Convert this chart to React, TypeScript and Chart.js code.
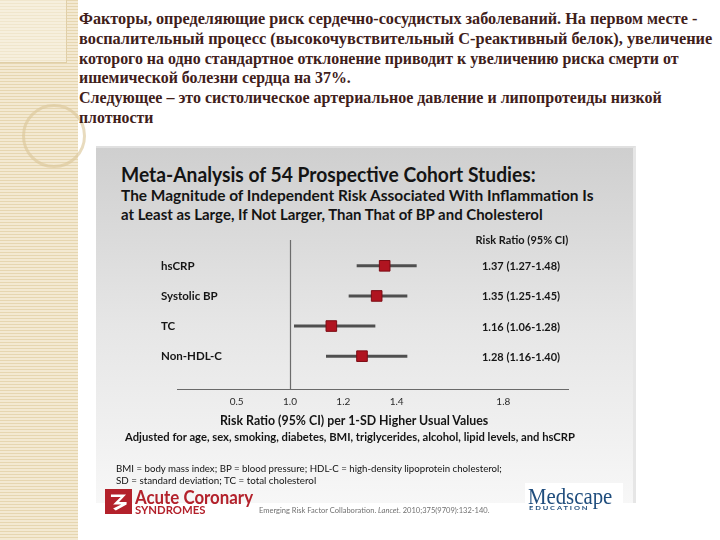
import React, { useEffect, useLayoutEffect, useRef } from "react";
import { Chart, registerables } from "chart.js";

Chart.register(...registerables);

// ---------- data ----------
const categories = ["hsCRP", "Systolic BP", "TC", "Non-HDL-C"];
const riskRatios = [1.355, 1.325, 1.155, 1.27];
const ciLower = [1.25, 1.22, 1.015, 1.135];
const ciUpper = [1.475, 1.44, 1.32, 1.44];
const ciLabels = ["1.37 (1.27-1.48)", "1.35 (1.25-1.45)", "1.16 (1.06-1.28)", "1.28 (1.16-1.40)"];
const xTickValues = [0.8, 1.0, 1.2, 1.4, 1.8];
const xTickLabels = ["0.5", "1.0", "1.2", "1.4", "1.8"];
const referenceRatio = 1.0;
const ciHeader = "Risk Ratio (95% CI)";
const xAxisTitle = "Risk Ratio (95% CI) per 1-SD Higher Usual Values";

const introLines = [
  "Факторы, определяющие риск сердечно-сосудистых заболеваний. На первом месте -",
  "воспалительный процесс (высокочувствительный С-реактивный белок), увеличение",
  "которого на одно стандартное отклонение приводит к увеличению риска смерти от",
  "ишемической болезни сердца на 37%.",
  "Следующее – это систолическое артериальное давление и липопротеиды низкой",
  "плотности",
];

const SANS = "Lato, 'Open Sans', 'DejaVu Sans', sans-serif";
const SERIF = "'Liberation Serif', 'DejaVu Serif', serif";

type FitProps = {
  x: number;
  y: number;
  w: number;
  size: number;
  weight?: number | string;
  family?: string;
  color?: string;
  spacing?: number;
  children: React.ReactNode;
};

function FitText({ x, y, w, size, weight = 700, family = SANS, color = "#141414", spacing, children }: FitProps) {
  const ref = useRef<HTMLDivElement>(null);
  useLayoutEffect(() => {
    const el = ref.current;
    if (!el) return;
    el.style.transform = "translateY(-50%)";
    const natural = el.offsetWidth;
    if (natural > 0) el.style.transform = `translateY(-50%) scaleX(${w / natural})`;
  });
  return (
    <div
      ref={ref}
      style={{
        position: "absolute",
        left: x,
        top: y,
        whiteSpace: "nowrap",
        fontSize: size,
        fontWeight: weight as any,
        fontFamily: family,
        color,
        lineHeight: 1,
        letterSpacing: spacing,
        transformOrigin: "0 50%",
        transform: "translateY(-50%)",
      }}
    >
      {children}
    </div>
  );
}

const rowOf = (i: number) => i + 1;

function ForestChart() {
  const canvasRef = useRef<HTMLCanvasElement>(null);

  useEffect(() => {
    const canvas = canvasRef.current;
    if (!canvas) return;

    const annotations = {
      id: "forestAnnotations",
      beforeDatasetsDraw(chart: any) {
        const { ctx, chartArea, scales } = chart;
        const px = Math.round(scales.x.getPixelForValue(referenceRatio)) + 0.5;
        ctx.save();
        ctx.strokeStyle = "#6c6c6c";
        ctx.lineWidth = 1.2;
        ctx.beginPath();
        ctx.moveTo(px, chartArea.top);
        ctx.lineTo(px, chartArea.bottom);
        ctx.stroke();
        ctx.restore();
      },
      afterDraw(chart: any) {
        const { ctx, scales } = chart;
        const y = scales.y;
        ctx.save();
        ctx.fillStyle = "#161616";
        ctx.textBaseline = "middle";
        ctx.textAlign = "left";
        ctx.font = `bold 11.5px ${SANS}`;
        categories.forEach((c, i) => ctx.fillText(c, 161, y.getPixelForValue(rowOf(i))));
        ctx.textAlign = "center";
        ctx.font = `bold 11px ${SANS}`;
        ciLabels.forEach((t, i) => ctx.fillText(t, 521, y.getPixelForValue(rowOf(i)) + 1, 84));
        ctx.fillText(ciHeader, 522, 240, 101);
        ctx.restore();
      },
    };

    const datasets: any[] = [
      {
        type: "scatter",
        label: "Risk ratio",
        data: riskRatios.map((v, i) => ({ x: v, y: rowOf(i) })),
        pointStyle: "rect",
        pointRadius: 7.5,
        pointHoverRadius: 7.5,
        backgroundColor: "#b01420",
        borderColor: "#7c0c14",
        borderWidth: 1,
        order: 0,
      },
      ...categories.map((c, i) => ({
        type: "line",
        label: `${c} 95% CI`,
        data: [
          { x: ciLower[i], y: rowOf(i) },
          { x: ciUpper[i], y: rowOf(i) },
        ],
        borderColor: "#4f4f4f",
        borderWidth: 3,
        pointRadius: 0,
        fill: false,
        order: 1,
      })),
    ];

    const chart = new Chart(canvas, {
      type: "scatter",
      data: { datasets },
      options: {
        animation: false,
        responsive: false,
        maintainAspectRatio: false,
        events: [],
        layout: { padding: { left: 177, right: 152, top: 240, bottom: 121 } },
        plugins: { legend: { display: false }, tooltip: { enabled: false } },
        scales: {
          x: {
            type: "linear",
            min: 0.5763,
            max: 2.0424,
            afterBuildTicks: (scale: any) => {
              scale.ticks = xTickValues.map((v) => ({ value: v }));
            },
            afterFit: (scale: any) => {
              scale.height = 30;
            },
            ticks: {
              autoSkip: false,
              maxRotation: 0,
              padding: 7,
              color: "#2a2a2a",
              font: { family: SANS, size: 10 },
              callback: (_v: any, i: number) => xTickLabels[i],
            },
            grid: { display: false, drawTicks: false },
            border: { display: true, color: "#6a6a6a", width: 1 },
          },
          y: {
            type: "linear",
            min: 0.143,
            max: 5.09,
            reverse: true,
            display: false,
          },
        },
      } as any,
      plugins: [annotations],
    });

    return () => chart.destroy();
  }, []);

  return (
    <canvas
      ref={canvasRef}
      width={720}
      height={540}
      style={{ position: "absolute", left: 0, top: 0, width: 720, height: 540 }}
    />
  );
}

export default function App() {
  const introY = [19, 39, 59, 78, 98, 118];
  const introW = [618, 633, 600, 272, 583, 74];
  return (
    <div
      style={{
        position: "fixed",
        left: 0,
        top: 0,
        width: 720,
        height: 540,
        background: "#ffffff",
        overflow: "hidden",
        fontFamily: SANS,
      }}
    >
      {/* decorative beige strip */}
      <div
        style={{
          position: "absolute",
          left: 0,
          top: 0,
          width: 78,
          height: 540,
          background:
            "repeating-linear-gradient(180deg, #e6d6b0 0px, #e6d6b0 1px, #f3e9d2 1px, #f3e9d2 3px)",
        }}
      />
      <div
        style={{
          position: "absolute",
          left: 0,
          top: 0,
          width: 66,
          height: 62,
          borderRight: "1px solid #e0cfa8",
          borderBottom: "1px solid #e0cfa8",
          background: "rgba(250,245,232,0.5)",
        }}
      />
      <div
        style={{
          position: "absolute",
          left: 22,
          top: 104,
          width: 64,
          height: 64,
          borderRadius: "50%",
          border: "3px solid rgba(220,200,155,0.65)",
          boxSizing: "border-box",
        }}
      />

      {/* grey slide panel */}
      <div
        style={{
          position: "absolute",
          left: 96,
          top: 146,
          width: 540,
          height: 357,
          boxSizing: "border-box",
          borderTop: "2px solid #e0e0e0",
          borderRight: "3px solid #e6e6e6",
          background:
            "linear-gradient(180deg, #cfcfcf 0%, #d9d9d9 22%, #e6e6e6 50%, #f0f0f0 80%, #f7f7f7 100%)",
        }}
      />

      {/* Russian intro text */}
      {introLines.map((t, i) => (
        <FitText key={i} x={79} y={introY[i]} w={introW[i]} size={16} family={SERIF} color="#40201a">
          {t}
        </FitText>
      ))}

      {/* slide titles */}
      <FitText x={121} y={174} w={415} size={20}>
        Meta-Analysis of 54 Prospective Cohort Studies:
      </FitText>
      <FitText x={121} y={195} w={473} size={15}>
        The Magnitude of Independent Risk Associated With Inflammation Is
      </FitText>
      <FitText x={121} y={214} w={422} size={15}>
        at Least as Large, If Not Larger, Than That of BP and Cholesterol
      </FitText>

      <ForestChart />

      <FitText x={220} y={420} w={268} size={13}>
        {xAxisTitle}
      </FitText>
      <FitText x={125} y={437} w={450} size={10.5}>
        Adjusted for age, sex, smoking, diabetes, BMI, triglycerides, alcohol, lipid levels, and hsCRP
      </FitText>
      <FitText x={116} y={468} w={386} size={10} weight={400} color="#111">
        BMI = body mass index; BP = blood pressure; HDL-C = high-density lipoprotein cholesterol;
      </FitText>
      <FitText x={116} y={480} w={200} size={10} weight={400} color="#111">
        SD = standard deviation; TC = total cholesterol
      </FitText>

      {/* Acute Coronary Syndromes logo */}
      <div
        style={{
          position: "absolute",
          left: 105,
          top: 489,
          width: 27,
          height: 25,
          background: "#b3212b",
        }}
      >
        <div
          style={{
            position: "absolute",
            inset: 0,
            background: "#ffffff",
            clipPath:
              "polygon(22% 22%, 78% 22%, 52% 52%, 80% 52%, 80% 62%, 40% 86%, 30% 78%, 60% 62%, 30% 62%, 58% 32%, 22% 32%)",
          }}
        />
      </div>
      <FitText x={135} y={497} w={118} size={18} color="#b3212b">
        Acute Coronary
      </FitText>
      <FitText x={135} y={509} w={70} size={11} color="#b3212b">
        SYNDROMES
      </FitText>
      <FitText x={259} y={511} w={230} size={7.5} weight={400} color="#707070">
        Emerging Risk Factor Collaboration. <i>Lancet</i>. 2010;375(9709):132-140.
      </FitText>

      {/* Medscape logo */}
      <div
        style={{ position: "absolute", left: 525, top: 483, width: 98, height: 29, background: "#ffffff" }}
      />
      <FitText x={528} y={496} w={84} size={24} weight={400} family={SERIF} color="#1f4d7d">
        Medscape
      </FitText>
      <FitText x={529} y={508} w={61} size={6} color="#1f4d7d" spacing={1.5}>
        EDUCATION
      </FitText>
    </div>
  );
}
